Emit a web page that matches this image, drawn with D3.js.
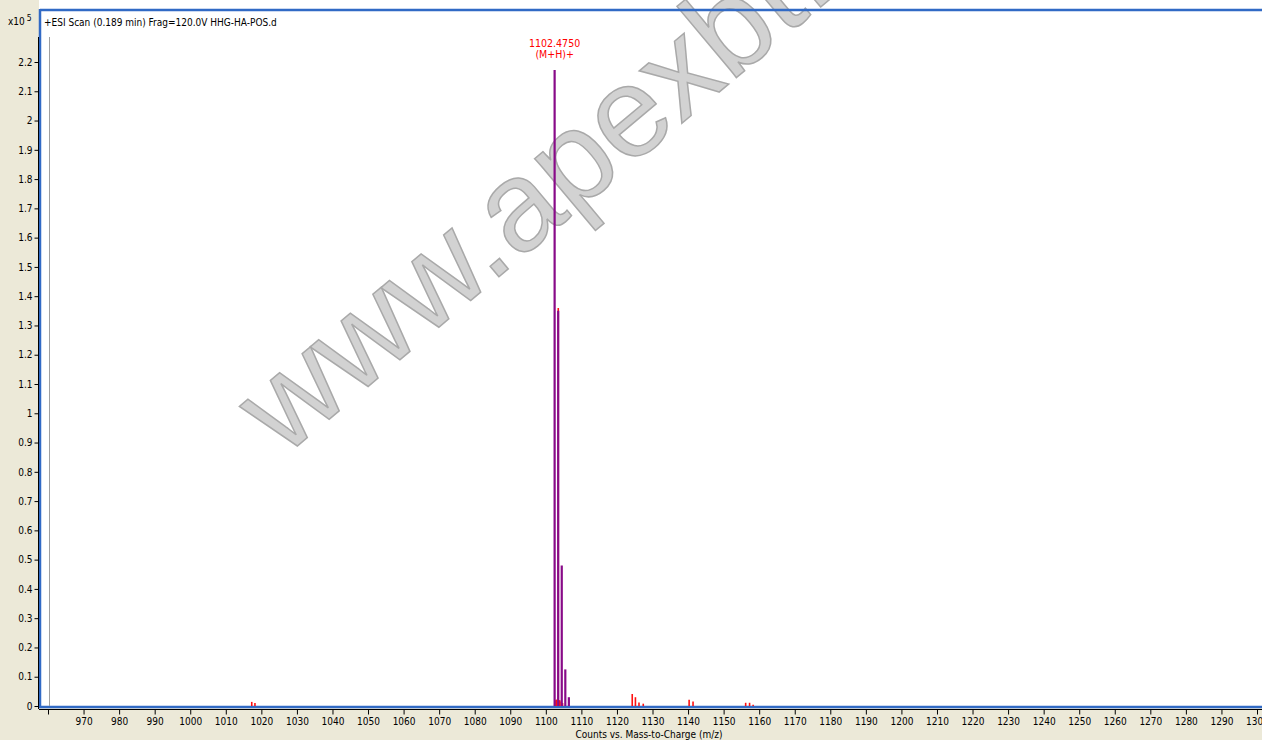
<!DOCTYPE html>
<html>
<head>
<meta charset="utf-8">
<script src="https://cdn.jsdelivr.net/npm/d3@7/dist/d3.min.js"></script>
<style>
  html, body { margin: 0; padding: 0; background: #fff; }
  svg text { font-family: 'Liberation Sans Narrow', 'Arial Narrow', 'DejaVu Sans Condensed', sans-serif; }
</style>
</head>
<body>
<svg id="chart" width="1262" height="740"></svg>
<script>
// spectrum data (m/z, counts x10^5)
var labelMz = [1102.475, 1103.478, 1104.48, 1105.48, 1106.48];
var labelCounts = [2.173, 1.35, 0.48, 0.125, 0.03];

var rawMz = [1017.3, 1018.2, 1102.6, 1103.0, 1103.5, 1103.9, 1104.3, 1104.7,
             1124.3, 1125.2, 1126.2, 1127.4, 1140.3, 1141.4, 1156.2, 1157.3, 1158.3];
var rawCounts = [0.014, 0.01, 0.02, 0.022, 1.36, 0.02, 0.015, 0.01,
                 0.041, 0.03, 0.012, 0.008, 0.021, 0.015, 0.011, 0.011, 0.004];

var xTicks = d3.range(960, 1310, 10);
var yTicks = d3.range(0, 23).map(function(i) { return i / 10; });

var peakLabel = ["1102.4750", "(M+H)+"];
var title = "+ESI Scan (0.189 min) Frag=120.0V HHG-HA-POS.d";
var xTitle = "Counts vs. Mass-to-Charge (m/z)";

(function() {
  var svg = d3.select("#chart");
  var x = d3.scaleLinear().domain([960, 1300]).range([48, 1257]);
  var y = d3.scaleLinear().domain([0, 2.2]).range([706, 62]);

  // panel backgrounds
  svg.append("rect").attr("width", 1262).attr("height", 740).attr("fill", "#fff");
  svg.append("rect").attr("x", 0).attr("y", 0).attr("width", 39).attr("height", 740).attr("fill", "#ECE9D8");
  svg.append("rect").attr("x", 0).attr("y", 708).attr("width", 1262).attr("height", 32).attr("fill", "#ECE9D8");

  // watermark
  svg.append("text")
    .attr("transform", "translate(283,458) rotate(-40)")
    .attr("font-size", 128)
    .style("font-family", "'Liberation Sans', Arial, sans-serif")
    .attr("fill", "#d2d2d2")
    .attr("stroke", "#a9a9a9")
    .attr("stroke-width", 1.5)
    .text("www.apexbt.com");

  // plot frame
  svg.append("line").attr("x1", 40).attr("x2", 1262).attr("y1", 10).attr("y2", 10)
    .attr("stroke", "#316AC5").attr("stroke-width", 2.5);
  svg.append("line").attr("x1", 40).attr("x2", 40).attr("y1", 9).attr("y2", 708)
    .attr("stroke", "#316AC5").attr("stroke-width", 2.5);
  svg.append("line").attr("x1", 39).attr("x2", 1262).attr("y1", 707).attr("y2", 707)
    .attr("stroke", "#316AC5").attr("stroke-width", 2.5);

  svg.append("line").attr("x1", 49.5).attr("x2", 49.5).attr("y1", 37).attr("y2", 706)
    .attr("stroke", "#a0a0a0").attr("stroke-width", 1);

  // peaks
  svg.append("g").selectAll("line").data(rawMz).join("line")
    .attr("x1", function(d) { return x(d); })
    .attr("x2", function(d) { return x(d); })
    .attr("y1", y(0))
    .attr("y2", function(d, i) { return y(rawCounts[i]); })
    .attr("stroke", "#ff1010").attr("stroke-width", 1.6);

  svg.append("g").selectAll("line").data(labelMz).join("line")
    .attr("x1", function(d) { return x(d); })
    .attr("x2", function(d) { return x(d); })
    .attr("y1", y(0))
    .attr("y2", function(d, i) { return y(labelCounts[i]); })
    .attr("stroke", "#880a88").attr("stroke-width", 2.2);

  svg.append("g").selectAll("text").data(peakLabel).join("text")
    .attr("x", x(labelMz[0]))
    .attr("y", function(d, i) { return 47 + i * 11; })
    .attr("text-anchor", "middle")
    .attr("font-size", 10.5)
    .attr("fill", "#ff0000")
    .text(function(d) { return d; });

  // axes
  var yAxis = svg.append("g").attr("transform", "translate(38.5,0)")
    .call(d3.axisLeft(y).tickValues(yTicks).tickSize(4).tickPadding(2)
      .tickFormat(function(d) { return String(+d.toFixed(1)); }));
  yAxis.select(".domain").remove();
  yAxis.append("line").attr("y1", 37).attr("y2", 709).attr("stroke", "#000");
  yAxis.selectAll("text").attr("font-size", 10).attr("fill", "#000");

  var xAxis = svg.append("g").attr("transform", "translate(0,709.5)")
    .call(d3.axisBottom(x).tickValues(xTicks).tickSize(5).tickPadding(3)
      .tickFormat(function(d) { return d === 960 ? "" : d; }));
  xAxis.select(".domain").remove();
  xAxis.append("line").attr("x1", 39).attr("x2", 1262).attr("stroke", "#000");
  xAxis.selectAll("text").attr("font-size", 10).attr("fill", "#000");

  svg.append("text").attr("x", 649).attr("y", 738).attr("text-anchor", "middle")
    .attr("font-size", 10).text(xTitle);

  svg.append("text").attr("x", 44).attr("y", 26).attr("font-size", 10).text(title);
  var exp = svg.append("text").attr("x", 8).attr("y", 25).attr("font-size", 10);
  exp.append("tspan").text("x10");
  exp.append("tspan").attr("dx", 2).attr("dy", -4).attr("font-size", 8.5).text("5");
})();
</script>
</body>
</html>
